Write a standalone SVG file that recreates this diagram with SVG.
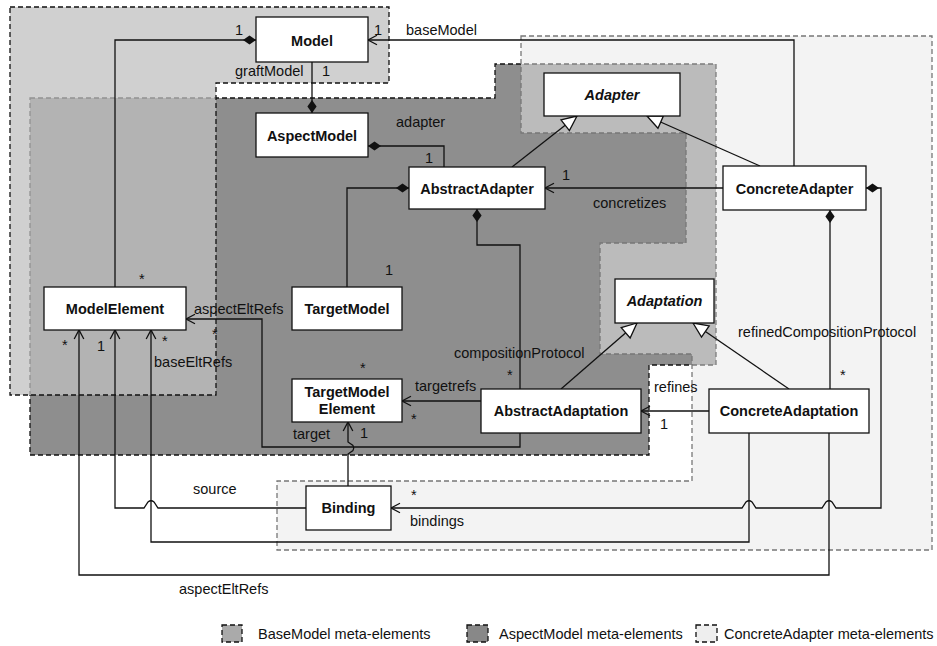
<svg xmlns="http://www.w3.org/2000/svg" width="937" height="646" viewBox="0 0 937 646">
<style>
text{font-family:"Liberation Sans",Arial,Helvetica,sans-serif;font-size:14.5px;fill:#111}
.nt{font-weight:bold;text-anchor:middle}
.it{font-style:italic}
.box{fill:#fff;stroke:#111;stroke-width:1.3}
.ln{fill:none;stroke:#111;stroke-width:1.3}
.reg{stroke-width:1.3;stroke-dasharray:5 3}
</style>
<defs>
<marker id="dia" viewBox="-15 -6 16 12" refX="0" refY="0" markerWidth="16" markerHeight="12" markerUnits="userSpaceOnUse" orient="auto-start-reverse" overflow="visible">
<path d="M0,0 L-6.5,-4.6 L-13,0 L-6.5,4.6 Z" fill="#111" stroke="none"/>
</marker>
<marker id="tri" viewBox="-17 -9 18 18" refX="0" refY="0" markerWidth="18" markerHeight="18" markerUnits="userSpaceOnUse" orient="auto-start-reverse" overflow="visible">
<path d="M0,0 L-15,-6.8 L-15,6.8 Z" fill="#fff" stroke="#111" stroke-width="1.3"/>
</marker>
<marker id="arr" viewBox="-11 -7 12 14" refX="0" refY="0" markerWidth="12" markerHeight="14" markerUnits="userSpaceOnUse" orient="auto-start-reverse" overflow="visible">
<path d="M-9,-4.8 L0,0 L-9,4.8" fill="none" stroke="#111" stroke-width="1.3"/>
</marker>
</defs>
<rect width="937" height="646" fill="#fff"/>
<g id="regions">
<polygon id="aspectmodel-region" class="reg" points="30,98 495,98 495,64 716,64 716,365 649,365 649,455 30,455" fill="#8e8e8e" stroke="#111"/>
<polygon id="concreteadapter-region" class="reg" points="521,36 932,36 932,550 277,550 277,481 692,481 692,354 600,354 600,243 686,243 686,133 521,133" fill="#e8e8e8" fill-opacity="0.5" stroke="#777"/>
<polygon id="basemodel-region" class="reg" points="10,7 389,7 389,83 216,83 216,395 10,395" fill="#c0c0c0" fill-opacity="0.74" stroke="#111"/>
</g>
<g id="connectors">
<path class="ln" d="M115,287 L115,40 L256,40" marker-end="url(#dia)"/>
<path class="ln" d="M794,166 L794,40 L368,40" marker-end="url(#arr)"/>
<path class="ln" d="M312,62 L312,113" marker-end="url(#dia)"/>
<path class="ln" d="M444,167 L444,146 L368,146" marker-end="url(#dia)"/>
<path class="ln" d="M347,287 L347,188 L409,188" marker-end="url(#dia)"/>
<path class="ln" d="M512,167 L577,116" marker-end="url(#tri)"/>
<path class="ln" d="M760,166 L647,116" marker-end="url(#tri)"/>
<path class="ln" d="M723,188 L545,188" marker-end="url(#arr)"/>
<path class="ln" d="M520,389 L520,245 L477,245 L477,209" marker-end="url(#dia)"/>
<path class="ln" d="M481,401 L402,401" marker-end="url(#arr)"/>
<path class="ln" d="M561,389 L637,323" marker-end="url(#tri)"/>
<path class="ln" d="M789,389 L693,323" marker-end="url(#tri)"/>
<path class="ln" d="M709,411 L641,411" marker-end="url(#arr)"/>
<path class="ln" d="M830,389 L830,210" marker-end="url(#dia)"/>
<path class="ln" d="M866,188 L881,188 L881,508 L836,508 L832,502 Q829,499.5 826,502 L822,508 L756,508 L752,502 Q749,499.5 746,502 L742,508 L391,508" marker-start="url(#dia)" marker-end="url(#arr)"/>
<path class="ln" d="M306,508 L158,508 L154,502 Q151,499.5 148,502 L144,508 L115,508 L115,330" marker-end="url(#arr)"/>
<path class="ln" d="M749,433 L749,542 L151,542 L151,330" marker-end="url(#arr)"/>
<path class="ln" d="M829,433 L829,575 L79,575 L79,330" marker-end="url(#arr)"/>
<path class="ln" d="M520,433 L520,447 L262,447 L262,319 L186,319" marker-end="url(#arr)"/>
<path class="ln" d="M348,486 L348,454 L353,450.5 Q354.5,448 353,445.5 L348,442 L348,422" marker-end="url(#arr)"/>
<g id="connector-labels">
<text x="235" y="35">1</text>
<text x="374" y="35">1</text>
<text x="406" y="35">baseModel</text>
<text x="235" y="75.5">graftModel</text>
<text x="322" y="75.5">1</text>
<text x="396" y="127">adapter</text>
<text x="425" y="163">1</text>
<text x="385" y="275">1</text>
<text x="139" y="284">*</text>
<text x="194" y="313.5">aspectEltRefs</text>
<text x="212" y="339">*</text>
<text x="62" y="350">*</text>
<text x="97" y="351">1</text>
<text x="162" y="346">*</text>
<text x="154" y="367">baseEltRefs</text>
<text x="360" y="373">*</text>
<text x="415" y="390.5">targetrefs</text>
<text x="411" y="424">*</text>
<text x="293" y="438.5">target</text>
<text x="360" y="437.5">1</text>
<text x="454" y="357.5">compositionProtocol</text>
<text x="507" y="380">*</text>
<text x="738" y="337">refinedCompositionProtocol</text>
<text x="840" y="380">*</text>
<text x="654" y="392">refines</text>
<text x="660" y="429">1</text>
<text x="562" y="180">1</text>
<text x="593" y="208">concretizes</text>
<text x="193" y="494">source</text>
<text x="411" y="500">*</text>
<text x="410" y="525.5">bindings</text>
<text x="179" y="593.5">aspectEltRefs</text>
</g>
</g>
<g id="Model"><rect class="box" x="256" y="17" width="112" height="45"/><text class="nt" x="312" y="45.5">Model</text></g>
<g id="AspectModel"><rect class="box" x="256" y="113" width="112" height="44"/><text class="nt" x="312" y="140.5">AspectModel</text></g>
<g id="Adapter"><rect class="box" x="544" y="73" width="136" height="43"/><text class="nt it" x="612" y="100">Adapter</text></g>
<g id="AbstractAdapter"><rect class="box" x="409" y="167" width="136" height="42"/><text class="nt" x="477" y="193.5">AbstractAdapter</text></g>
<g id="ConcreteAdapter"><rect class="box" x="723" y="166" width="143" height="44"/><text class="nt" x="794.5" y="193.5">ConcreteAdapter</text></g>
<g id="ModelElement"><rect class="box" x="44" y="287" width="142" height="43"/><text class="nt" x="115" y="314">ModelElement</text></g>
<g id="TargetModel"><rect class="box" x="292" y="287" width="110" height="43"/><text class="nt" x="347" y="314">TargetModel</text></g>
<g id="TargetModelElement"><rect class="box" x="292" y="379" width="110" height="43"/><text class="nt" x="347" y="397">TargetModel</text><text class="nt" x="347" y="414">Element</text></g>
<g id="Adaptation"><rect class="box" x="615" y="279" width="99" height="44"/><text class="nt it" x="664.5" y="306">Adaptation</text></g>
<g id="AbstractAdaptation"><rect class="box" x="481" y="389" width="160" height="44"/><text class="nt" x="561" y="416">AbstractAdaptation</text></g>
<g id="ConcreteAdaptation"><rect class="box" x="709" y="389" width="160" height="44"/><text class="nt" x="789" y="416">ConcreteAdaptation</text></g>
<g id="Binding"><rect class="box" x="306" y="486" width="85" height="44"/><text class="nt" x="348.5" y="513">Binding</text></g>
<g id="legend">
<rect class="reg" x="222" y="625" width="20" height="17" fill="#aaaaaa" stroke="#111"/>
<text x="258" y="638.5">BaseModel meta-elements</text>
<rect class="reg" x="467" y="625" width="21" height="17" fill="#888888" stroke="#111"/>
<text x="499" y="638.5">AspectModel meta-elements</text>
<rect class="reg" x="696" y="625" width="21" height="17" fill="#eeeeee" stroke="#111"/>
<text x="724" y="638.5">ConcreteAdapter meta-elements</text>
</g>
</svg>
